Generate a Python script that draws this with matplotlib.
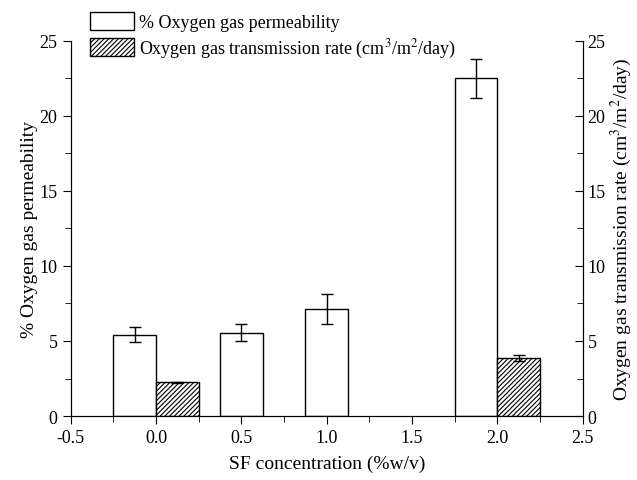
import numpy as np
import matplotlib.pyplot as plt
from matplotlib.ticker import MultipleLocator

plt.rcParams['font.family'] = ['Liberation Serif', 'DejaVu Serif']
plt.rcParams['mathtext.fontset'] = 'stix'
plt.rcParams['hatch.linewidth'] = 0.8
plt.rcParams['hatch.color'] = '#333333'

# data
conc = np.array([0.0, 0.5, 1.0, 2.0])
perm = np.array([5.4, 5.55, 7.15, 22.5])
perm_err = np.array([0.5, 0.55, 1.0, 1.3])
rate = np.array([2.25, np.nan, np.nan, 3.85])
rate_err = np.array([0.05, np.nan, np.nan, 0.2])

w = 0.25
has_rate = ~np.isnan(rate)
x_perm = np.where(has_rate, conc - w / 2, conc)
x_rate = conc[has_rate] + w / 2

fig = plt.figure(figsize=(6.37, 4.81), dpi=100)
ax = fig.add_axes([0.111, 0.133, 0.804, 0.780])
ax2 = ax.twinx()

b1 = ax.bar(x_perm, perm, w, yerr=perm_err, color='white', edgecolor='black',
            linewidth=1, capsize=4, error_kw=dict(elinewidth=1, capthick=1))
b2 = ax2.bar(x_rate, rate[has_rate], w, yerr=rate_err[has_rate], color='white',
             edgecolor='black', hatch='///////', linewidth=1, capsize=4,
             error_kw=dict(elinewidth=1, capthick=1))

for a in (ax, ax2):
    a.set_ylim(0, 25)
    a.yaxis.set_major_locator(MultipleLocator(5))
    a.yaxis.set_minor_locator(MultipleLocator(2.5))
    a.spines['top'].set_visible(False)
ax.set_xlim(-0.5, 2.5)
ax.xaxis.set_minor_locator(MultipleLocator(0.25))
ax.set_xticks([-0.5, 0, 0.5, 1.0, 1.5, 2.0, 2.5])
ax.set_xticklabels(['-0.5', '0.0', '0.5', '1.0', '1.5', '2.0', '2.5'])

ax.tick_params(axis='both', which='both', direction='out', labelsize=13)
ax.tick_params(which='major', length=6)
ax.tick_params(which='minor', length=4)
ax2.tick_params(axis='y', which='both', direction='in', labelsize=13)
ax2.tick_params(which='major', length=6)
ax2.tick_params(which='minor', length=4)

ax.set_xlabel('SF concentration (%w/v)', fontsize=14, labelpad=6)
ax.set_ylabel('% Oxygen gas permeability', fontsize=14, labelpad=1)
ax2.set_ylabel('Oxygen gas transmission rate (cm$^3$/m$^2$/day)', fontsize=14,
               labelpad=2)

fig.legend([b1, b2], ['% Oxygen gas permeability',
                      'Oxygen gas transmission rate (cm$^3$/m$^2$/day)'],
           loc='upper left', bbox_to_anchor=(0.122, 1.0), frameon=False,
           fontsize=13, handlelength=2.4, handleheight=1.2, handletextpad=0.3,
           labelspacing=0.3, borderpad=0.2)

fig.savefig('out.png', dpi=100)
